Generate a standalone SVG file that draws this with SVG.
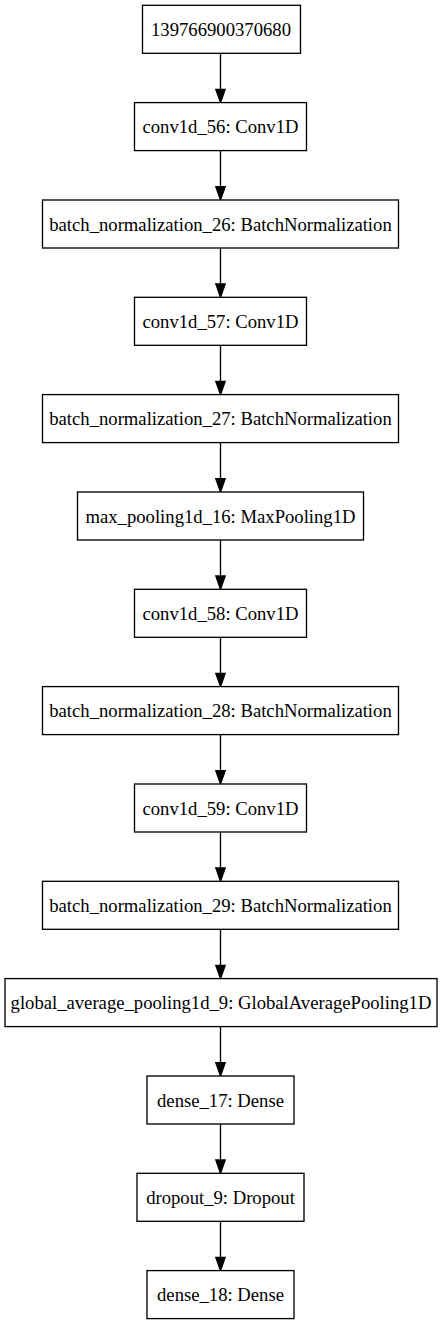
<svg xmlns="http://www.w3.org/2000/svg" width="441" height="1325" viewBox="0 0 441 1325">
<style>
.n rect{fill:#fff;stroke:#000;stroke-width:1.33}
.n text{font-size:18.67px;text-anchor:middle;fill:#000}
.e line{stroke:#000;stroke-width:1.33}
.e polygon{fill:#000;stroke:#000;stroke-width:1.33}
</style>
<rect width="441" height="1325" fill="#fff"/>
<g class="e" id="edges">
<line x1="220.5" y1="53.3" x2="220.5" y2="90"/><polygon points="215.8,89.3 225.2,89.3 220.5,102.6"/>
<line x1="220.5" y1="150.6" x2="220.5" y2="187.3"/><polygon points="215.8,186.6 225.2,186.6 220.5,199.9"/>
<line x1="220.5" y1="248" x2="220.5" y2="284.7"/><polygon points="215.8,284 225.2,284 220.5,297.3"/>
<line x1="220.5" y1="345.3" x2="220.5" y2="382"/><polygon points="215.8,381.3 225.2,381.3 220.5,394.6"/>
<line x1="220.5" y1="442.6" x2="220.5" y2="479.3"/><polygon points="215.8,478.6 225.2,478.6 220.5,491.9"/>
<line x1="220.5" y1="540" x2="220.5" y2="576.7"/><polygon points="215.8,576 225.2,576 220.5,589.3"/>
<line x1="220.5" y1="637.3" x2="220.5" y2="674"/><polygon points="215.8,673.3 225.2,673.3 220.5,686.6"/>
<line x1="220.5" y1="734.6" x2="220.5" y2="771.3"/><polygon points="215.8,770.6 225.2,770.6 220.5,783.9"/>
<line x1="220.5" y1="832" x2="220.5" y2="868.7"/><polygon points="215.8,868 225.2,868 220.5,881.3"/>
<line x1="220.5" y1="929.3" x2="220.5" y2="966"/><polygon points="215.8,965.3 225.2,965.3 220.5,978.6"/>
<line x1="220.5" y1="1026.6" x2="220.5" y2="1063.3"/><polygon points="215.8,1062.6 225.2,1062.6 220.5,1075.9"/>
<line x1="220.5" y1="1124" x2="220.5" y2="1160.7"/><polygon points="215.8,1160 225.2,1160 220.5,1173.3"/>
<line x1="220.5" y1="1221.3" x2="220.5" y2="1258"/><polygon points="215.8,1257.3 225.2,1257.3 220.5,1270.6"/>
</g>
<g font-family="Liberation Serif, Times New Roman, serif">
<g class="n" id="n0"><rect x="142.5" y="5.3" width="158" height="48"/><text x="221" y="35.8">139766900370680</text></g>
<g class="n" id="n1"><rect x="134.5" y="102.6" width="172" height="48"/><text x="220.5" y="133.1">conv1d_56: Conv1D</text></g>
<g class="n" id="n2"><rect x="42.5" y="200" width="356" height="48"/><text x="220.5" y="230.5">batch_normalization_26: BatchNormalization</text></g>
<g class="n" id="n3"><rect x="134.5" y="297.3" width="172" height="48"/><text x="220.5" y="327.8">conv1d_57: Conv1D</text></g>
<g class="n" id="n4"><rect x="42.5" y="394.6" width="356" height="48"/><text x="220.5" y="425.1">batch_normalization_27: BatchNormalization</text></g>
<g class="n" id="n5"><rect x="77.5" y="492" width="286" height="48"/><text x="220.5" y="522.5">max_pooling1d_16: MaxPooling1D</text></g>
<g class="n" id="n6"><rect x="134.5" y="589.3" width="172" height="48"/><text x="220.5" y="619.8">conv1d_58: Conv1D</text></g>
<g class="n" id="n7"><rect x="42.5" y="686.6" width="356" height="48"/><text x="220.5" y="717.1">batch_normalization_28: BatchNormalization</text></g>
<g class="n" id="n8"><rect x="134.5" y="784" width="172" height="48"/><text x="220.5" y="814.5">conv1d_59: Conv1D</text></g>
<g class="n" id="n9"><rect x="42.5" y="881.3" width="356" height="48"/><text x="220.5" y="911.8">batch_normalization_29: BatchNormalization</text></g>
<g class="n" id="n10"><rect x="5" y="978.6" width="432" height="48"/><text x="221" y="1009.1">global_average_pooling1d_9: GlobalAveragePooling1D</text></g>
<g class="n" id="n11"><rect x="147" y="1076" width="147" height="48"/><text x="220.5" y="1106.5">dense_17: Dense</text></g>
<g class="n" id="n12"><rect x="137" y="1173.3" width="167" height="48"/><text x="220.5" y="1203.8">dropout_9: Dropout</text></g>
<g class="n" id="n13"><rect x="147" y="1270.6" width="147" height="48"/><text x="220.5" y="1301.1">dense_18: Dense</text></g>
</g>
</svg>
